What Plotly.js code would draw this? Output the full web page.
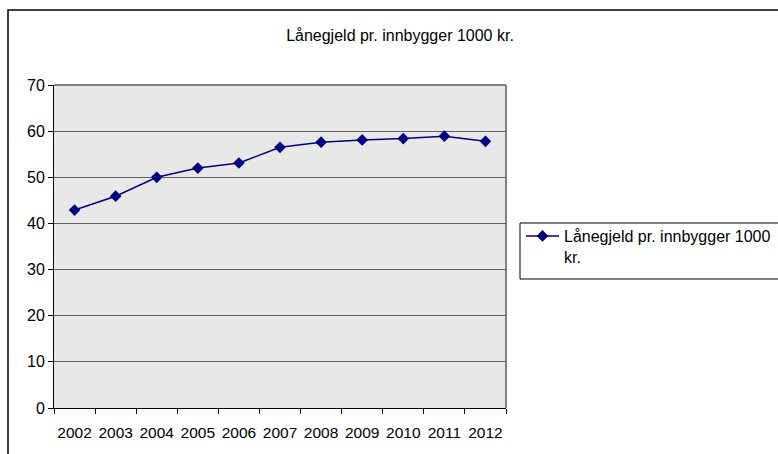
<!DOCTYPE html>
<html>
<head>
<meta charset="utf-8">
<script src="https://cdn.plot.ly/plotly-3.0.1.min.js"></script>
<style>html,body{margin:0;padding:0;background:#fff;}#chart{width:778px;height:454px;}</style>
</head>
<body>
<div id="chart"></div>
<script>
const chartTitle = 'Lånegjeld pr. innbygger 1000 kr.';
const seriesName = 'Lånegjeld pr. innbygger 1000 kr.';
const years = ['2002','2003','2004','2005','2006','2007','2008','2009','2010','2011','2012'];
const values = [42.9, 45.9, 50.0, 52.0, 53.1, 56.5, 57.6, 58.1, 58.4, 58.9, 57.8];
const yTicks = [0, 10, 20, 30, 40, 50, 60, 70];

const FONT = '"Liberation Sans", Arial, sans-serif';
const W = 778, H = 454;
const L = 54, R = 506, T = 85, B = 408;
const px = x => (x - L) / (R - L);
const py = y => (B - y) / (B - T);

const trace = {
  x: years,
  y: values,
  type: 'scatter',
  mode: 'lines+markers',
  name: seriesName.replace(' kr.', '<br>kr.'),
  line: {color: '#000080', width: 1.5},
  marker: {symbol: 'diamond', size: 9, color: '#000080'},
  hoverinfo: 'x+y'
};

const layout = {
  width: W, height: H,
  margin: {l: L, r: W - R, t: T, b: H - B, autoexpand: false},
  paper_bgcolor: '#ffffff',
  plot_bgcolor: '#e8e8e8',
  font: {family: FONT, size: 16, color: '#000'},
  title: {
    text: chartTitle,
    font: {family: FONT, size: 16, color: '#000'},
    x: 400 / W, xref: 'container', xanchor: 'center',
    y: 1 - 35 / H, yref: 'container', yanchor: 'middle'
  },
  showlegend: true,
  legend: {
    x: px(521), xanchor: 'left',
    y: py(219), yanchor: 'top',
    bgcolor: 'rgba(0,0,0,0)',
    borderwidth: 0,
    valign: 'top',
    font: {family: FONT, size: 16, color: '#000'},
    itemwidth: 33
  },
  xaxis: {
    type: 'category',
    tickson: 'boundaries',
    ticks: 'outside', ticklen: 5, tickcolor: '#000', tickwidth: 1,
    showline: true, linecolor: '#000', linewidth: 1,
    showgrid: false, zeroline: false,
    tickangle: 0,
    ticklabelstandoff: 10,
    tickfont: {family: FONT, size: 15.5, color: '#000'},
    range: [-0.5, 10.5],
    fixedrange: true
  },
  yaxis: {
    range: [0, 70],
    tickvals: yTicks,
    ticks: 'outside', ticklen: 5, tickcolor: '#000', tickwidth: 1,
    showline: true, linecolor: '#000', linewidth: 1,
    showgrid: true, gridcolor: '#606060', gridwidth: 1,
    zeroline: false,
    tickfont: {family: FONT, size: 16, color: '#000'},
    fixedrange: true
  },
  shapes: [
    {type: 'line', xref: 'paper', yref: 'paper', x0: 1, x1: 1, y0: 0, y1: 1,
     line: {color: '#808080', width: 2}, layer: 'below'},
    {type: 'line', xref: 'paper', yref: 'paper', x0: 0, x1: 1, y0: 1, y1: 1,
     line: {color: '#808080', width: 2}, layer: 'below'},
    {type: 'rect', xref: 'paper', yref: 'paper',
     x0: px(8), x1: px(800), y0: py(10), y1: py(480),
     line: {color: '#000', width: 1.5}, fillcolor: 'rgba(0,0,0,0)', layer: 'above'},
    {type: 'rect', xref: 'paper', yref: 'paper',
     x0: px(520), x1: px(800), y0: py(223), y1: py(279),
     line: {color: '#000', width: 1}, fillcolor: 'rgba(0,0,0,0)', layer: 'above'}
  ]
};

Plotly.newPlot('chart', [trace], layout, {displayModeBar: false, staticPlot: true});
</script>
</body>
</html>
